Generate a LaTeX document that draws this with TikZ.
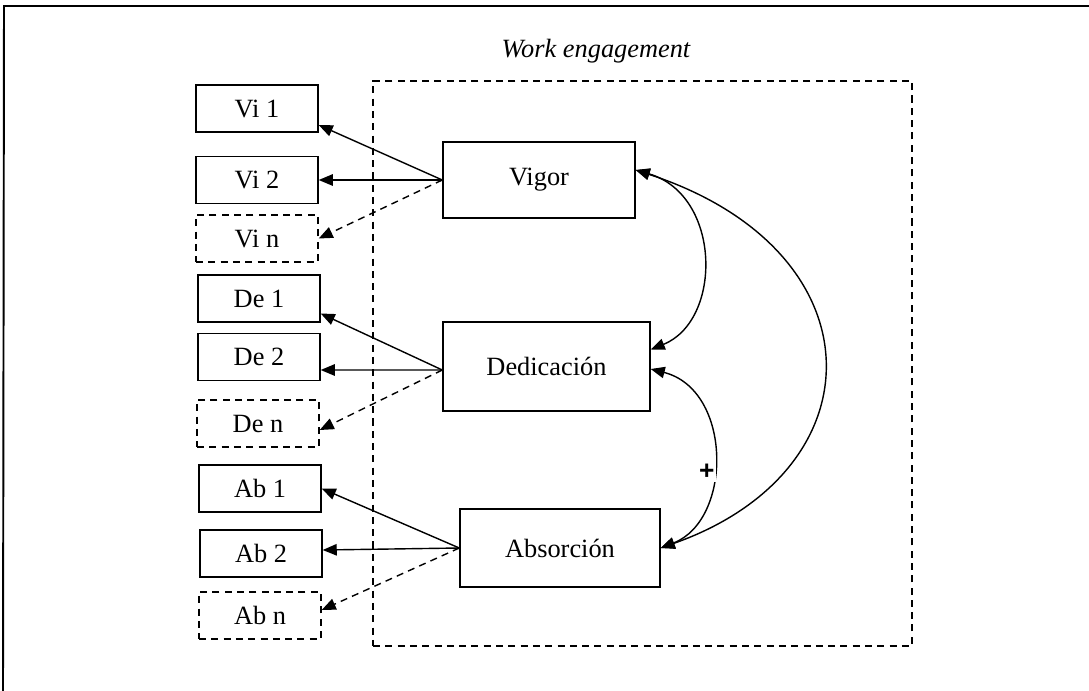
\documentclass[tikz,border=0pt]{standalone}
\usepackage{fontspec}
\setmainfont{Liberation Serif}
\newfontfamily\plusfont{Liberation Sans}
\usepackage{tikz}
\usetikzlibrary{arrows.meta}
\usetikzlibrary{positioning}

\begin{document}
\begin{tikzpicture}[font=\fontsize{15}{18}\selectfont,
    ind/.style={draw, line width=0.8pt, minimum width=2.44cm, minimum height=0.94cm, inner sep=0pt},
    indn/.style={ind, dash pattern=on 4pt off 3pt},
    factor/.style={draw, line width=0.8pt, inner sep=0pt}]

    \useasboundingbox (0,0) rectangle (21.78,-13.82);

    % page frame (only top and left show)
    \draw[line width=1.1pt] (0.06,-13.82) -- (0.08,-0.12) -- (21.78,-0.12);

    % Add or remove nodes here, use the tuple for location
    \node[draw, line width=1pt, dash pattern=on 4pt off 3pt, minimum width=10.78cm, minimum height=11.3cm] (frame) at (12.85,-7.27) {};
    \node (title) at (11.92,-1.02) {\itshape Work engagement};

    \node[factor, minimum width=3.84cm, minimum height=1.52cm] (Vigor) at (10.78,-3.6) {Vigor};
    \node[factor, minimum width=4.14cm, minimum height=1.78cm] (Ded) at (10.93,-7.33) {Dedicación};
    \node[factor, minimum width=4.0cm, minimum height=1.56cm] (Abs) at (11.2,-10.96) {Absorción};

    \node[ind] (Vi1) at (5.14,-2.17) {Vi 1};
    \node[ind] (Vi2) at (5.14,-3.6) {Vi 2};
    \node[indn] (Vin) at (5.14,-4.77) {Vi n};
    \node[ind] (De1) at (5.18,-5.97) {De 1};
    \node[ind] (De2) at (5.18,-7.14) {De 2};
    \node[indn] (Den) at (5.16,-8.47) {De n};
    \node[ind] (Ab1) at (5.2,-9.77) {Ab 1};
    \node[ind] (Ab2) at (5.22,-11.07) {Ab 2};
    \node[indn] (Abn) at (5.2,-12.31) {Ab n};

    % loadings
    \begin{scope}[>={Triangle[length=8pt, width=6.5pt]},
              every edge/.style={draw=black, line width=0.8pt}]
    \path [->] (Vigor.west) edge ([yshift=-0.33cm]Vi1.east);
    \path [->] (Vigor.west) edge (Vi2.east);
    \path [->] (Vigor.west) edge[dash pattern=on 4pt off 3pt] (Vin.east);
    \path [->] ([yshift=-0.07cm]Ded.west) edge ([yshift=-0.3cm]De1.east);
    \path [->] ([yshift=-0.07cm]Ded.west) edge ([yshift=-0.26cm]De2.east);
    \path [->] ([yshift=-0.07cm]Ded.west) edge[dash pattern=on 4pt off 3pt] ([yshift=-0.13cm]Den.east);
    \path [->] (Abs.west) edge (Ab1.east);
    \path [->] (Abs.west) edge ([yshift=0.07cm]Ab2.east);
    \path [->] (Abs.west) edge[dash pattern=on 4pt off 3pt] ([yshift=0.11cm]Abn.east);
    \end{scope}

    % correlations
    \begin{scope}[>={Triangle[length=8pt, width=6.5pt]}, line width=0.8pt]
    \draw [<->] ([yshift=0.2cm]Vigor.east) .. controls +(1.72,-0.5) and +(1.44,0.58) .. ([yshift=0.34cm]Ded.east);
    \draw [<->] ([yshift=0.2cm]Vigor.east) .. controls +(4.9,-1.6) and +(4.42,1.56) .. (Abs.east);
    \draw [<->] ([yshift=-0.05cm]Ded.east) .. controls +(1.64,-0.42) and +(1.44,0.56) .. (Abs.east)
        node[pos=0.57, xshift=-0.12cm, fill=white, inner sep=1pt] (plus) {\plusfont\bfseries +};
    \end{scope}

\end{tikzpicture}
\end{document}
